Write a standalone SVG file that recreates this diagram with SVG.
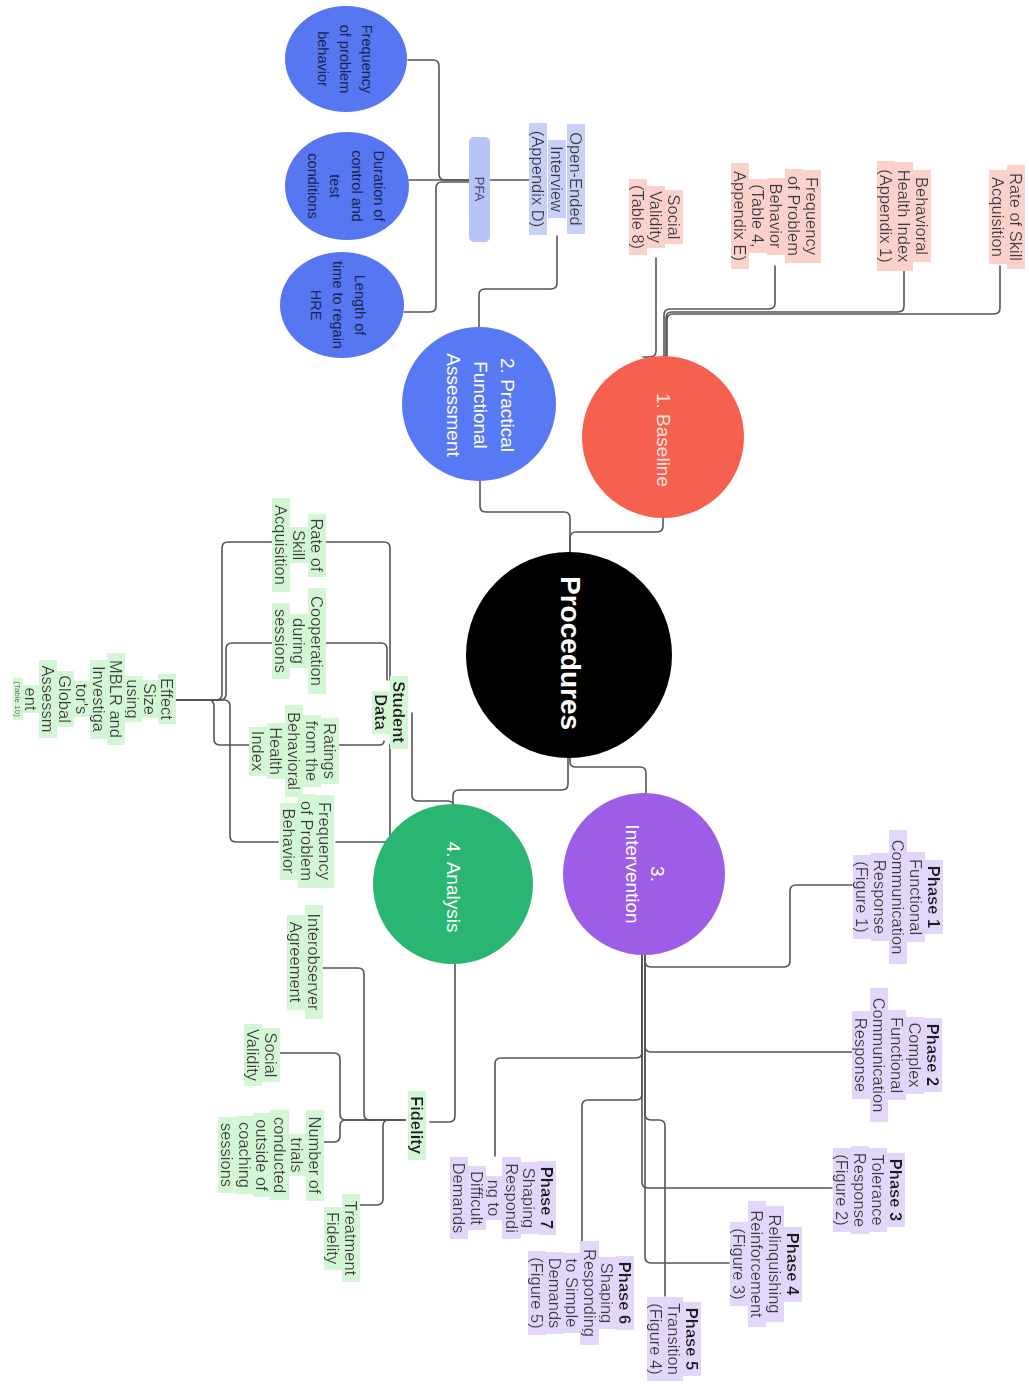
<svg xmlns="http://www.w3.org/2000/svg" width="1029" height="1384" viewBox="0 0 1029 1384">
<defs>
<style>
text{font-family:"Liberation Sans",Arial,Helvetica,sans-serif;text-anchor:middle;dominant-baseline:central}
.lbl{font-size:16.5px;fill:#3a3a3a}
.b{font-weight:bold;fill:#1e1e1e}
.pk{filter:url(#fPink)}
.gr{filter:url(#fGreen)}
.pu{filter:url(#fPurple)}
.bl{filter:url(#fBlue)}
.ct{font-size:19px;fill:#ffffff}
.et{font-size:14.5px;fill:#1c2550}
.conn path{fill:none;stroke:#555;stroke-width:1.6;stroke-linejoin:round;stroke-linecap:round}
</style>
<filter id="fPink" x="-0.08" y="0.01" width="1.16" height="0.98"><feFlood flood-color="#fbd1cc" result="bg"/><feMerge><feMergeNode in="bg"/><feMergeNode in="SourceGraphic"/></feMerge></filter>
<filter id="fGreen" x="-0.08" y="0.01" width="1.16" height="0.98"><feFlood flood-color="#d3f6d4" result="bg"/><feMerge><feMergeNode in="bg"/><feMergeNode in="SourceGraphic"/></feMerge></filter>
<filter id="fPurple" x="-0.08" y="0.01" width="1.16" height="0.98"><feFlood flood-color="#e3d6fb" result="bg"/><feMerge><feMergeNode in="bg"/><feMergeNode in="SourceGraphic"/></feMerge></filter>
<filter id="fBlue" x="-0.08" y="0.01" width="1.16" height="0.98"><feFlood flood-color="#c7d1f8" result="bg"/><feMerge><feMergeNode in="bg"/><feMergeNode in="SourceGraphic"/></feMerge></filter>
</defs>
<rect width="1029" height="1384" fill="#ffffff"/>

<g id="connectors" class="conn">
<path d="M663,518 V526 Q663,532 657,532 H576 Q570,532 570,538 V553"/>
<path d="M480,480 V506 Q480,512 486,512 H564 Q570,512 570,518 V553"/>
<path d="M570,757 V762 Q570,767 576,767 H640 Q646,767 646,773 V795"/>
<path d="M568,757 V784 Q568,790 562,790 H459 Q453,790 453,796 V805"/>
<path d="M412,713 V795 Q412,801 418,801 H447 Q453,801 453,805"/>
<path d="M455,964 V1116 Q455,1122 449,1122 H430"/>
<path d="M557,236 V283 Q557,289 551,289 H485 Q479,289 479,295 V328"/>
<path d="M490,180 H530"/>
<path d="M469,180 H445 Q439,180 439,174 V66 Q439,60 433,60 H408"/>
<path d="M469,180 H409"/>
<path d="M469,182 H442 Q436,182 436,188 V306 Q436,312 430,312 H404"/>
<path d="M656,258 V351 Q656,357 650,357 H643"/>
<path d="M775,266 V303 Q775,309 769,309 H670 Q664,309 664,315 V357"/>
<path d="M904,271 V306 Q904,312 898,312 H672 Q666,312 666,318 V357"/>
<path d="M1000,266 V308 Q1000,314 994,314 H673 Q667,314 667,320 V357"/>
<path d="M326,542 H384 Q390,542 390,548 V680"/>
<path d="M324,643 H381 Q387,643 387,649 V680"/>
<path d="M335,745 H379 Q384,745 384,741"/>
<path d="M336,842 H384 Q390,842 390,836 V744"/>
<path d="M175,700 H216 Q222,700 222,694 V548 Q222,542 228,542 H272"/>
<path d="M175,700 H220 Q226,700 226,694 V649 Q226,643 232,643 H274"/>
<path d="M175,700 H208 Q214,700 214,706 V739 Q214,745 220,745 H253"/>
<path d="M175,700 H224 Q230,700 230,706 V836 Q230,842 236,842 H278"/>
<path d="M322,968 H358 Q364,968 364,974 V1114 Q364,1120 370,1120 H405"/>
<path d="M280,1053 H334 Q340,1053 340,1059 V1114 Q340,1120 346,1120 H405"/>
<path d="M322,1142 H334 Q340,1142 340,1136 V1126 Q340,1120 346,1120 H405"/>
<path d="M358,1205 H377 Q383,1205 383,1199 V1126 Q383,1120 389,1120 H405"/>
<path d="M645,955 V961 Q645,967 651,967 H784 Q790,967 790,961 V891 Q790,885 796,885 H852"/>
<path d="M645,955 V1046 Q645,1052 651,1052 H852"/>
<path d="M642,955 V1182 Q642,1188 648,1188 H832"/>
<path d="M645,955 V1257 Q645,1263 651,1263 H729"/>
<path d="M645,955 V1114 Q645,1120 651,1120 H659 Q665,1120 665,1126 V1296"/>
<path d="M642,955 V1094 Q642,1100 636,1100 H588 Q582,1100 582,1106 V1247"/>
<path d="M642,955 V1052 Q642,1058 636,1058 H501 Q495,1058 495,1064 V1156"/>
</g>

<g id="procedures">
<circle cx="569" cy="655" r="103" fill="#000000"/>
<text transform="translate(570,653) rotate(90)" style="font-size:28px;font-weight:bold;fill:#ffffff">Procedures</text>
</g>

<g id="baseline">
<circle cx="663" cy="437" r="81" fill="#f6604e"/>
<text class="ct" transform="translate(663,440) rotate(90)" style="fill:#fde3df">1. Baseline</text>
</g>

<g id="pfa-main">
<circle cx="479" cy="404" r="77" fill="#5779f4"/>
<g transform="translate(480,405) rotate(90)">
<text class="ct" y="-27">2. Practical</text>
<text class="ct" y="0">Functional</text>
<text class="ct" y="27">Assessment</text>
</g>
</g>

<g id="intervention">
<circle cx="644" cy="874" r="81" fill="#9d5de6"/>
<g transform="translate(645,874) rotate(90)">
<text class="ct" y="-12.5">3.</text>
<text class="ct" y="12.5">Intervention</text>
</g>
</g>

<g id="analysis">
<circle cx="453" cy="884" r="80" fill="#2ab672"/>
<text class="ct" transform="translate(453,887) rotate(90)">4. Analysis</text>
</g>

<g id="e-frequency">
<ellipse cx="346" cy="59" rx="61" ry="53" fill="#5676f2"/>
<g transform="translate(345,59) rotate(90)">
<text class="et" y="-22">Frequency</text>
<text class="et" y="0">of problem</text>
<text class="et" y="22">behavior</text>
</g>
</g>

<g id="e-duration">
<ellipse cx="347" cy="186" rx="62" ry="54" fill="#5676f2"/>
<g transform="translate(346,186) rotate(90)">
<text class="et" y="-33">Duration of</text>
<text class="et" y="-11">control and</text>
<text class="et" y="11">test</text>
<text class="et" y="33">conditions</text>
</g>
</g>

<g id="e-length">
<ellipse cx="342" cy="305" rx="62" ry="53" fill="#5676f2"/>
<g transform="translate(338,305) rotate(90)">
<text class="et" y="-22">Length of</text>
<text class="et" y="0">time to regain</text>
<text class="et" y="22">HRE</text>
</g>
</g>

<g id="pfa">
<rect x="469" y="137" width="21" height="105" rx="5" fill="#b6c4f6"/>
<text transform="translate(479,189) rotate(90)" style="font-size:13px;fill:#3a4470">PFA</text>
</g>

<g id="open-ended" transform="translate(557,179) rotate(90)">
<text class="lbl bl" y="-19">Open-Ended</text>
<text class="lbl bl" y="0">Interview</text>
<text class="lbl bl" y="19">(Appendix D)</text>
</g>

<g id="bl-social" transform="translate(656,217) rotate(90)">
<text class="lbl pk" y="-18">Social</text>
<text class="lbl pk" y="0">Validity</text>
<text class="lbl pk" y="18">(Table 8)</text>
</g>

<g id="bl-frequency" transform="translate(776,216) rotate(90)">
<text class="lbl pk" y="-36">Frequency</text>
<text class="lbl pk" y="-18">of Problem</text>
<text class="lbl pk" y="0">Behavior</text>
<text class="lbl pk" y="18">(Table 4,</text>
<text class="lbl pk" y="36">Appendix E)</text>
</g>

<g id="bl-bhi" transform="translate(904,216) rotate(90)">
<text class="lbl pk" y="-18">Behavioral</text>
<text class="lbl pk" y="0">Health Index</text>
<text class="lbl pk" y="18">(Appendix 1)</text>
</g>

<g id="bl-rate" transform="translate(1007,217) rotate(90)">
<text class="lbl pk" y="-9">Rate of Skill</text>
<text class="lbl pk" y="9">Acquisition</text>
</g>

<g id="student-data" transform="translate(390,712) rotate(90)">
<text class="lbl gr b" y="-9">Student</text>
<text class="lbl gr b" y="9">Data</text>
</g>

<g id="sd-rate" transform="translate(299,545) rotate(90)">
<text class="lbl gr" y="-18">Rate of</text>
<text class="lbl gr" y="0">Skill</text>
<text class="lbl gr" y="18">Acquisition</text>
</g>

<g id="sd-coop" transform="translate(299,641) rotate(90)">
<text class="lbl gr" y="-18">Cooperation</text>
<text class="lbl gr" y="0">during</text>
<text class="lbl gr" y="18">sessions</text>
</g>

<g id="sd-ratings" transform="translate(294,751) rotate(90)">
<text class="lbl gr" y="-36">Ratings</text>
<text class="lbl gr" y="-18">from the</text>
<text class="lbl gr" y="0">Behavioral</text>
<text class="lbl gr" y="18">Health</text>
<text class="lbl gr" y="36">Index</text>
</g>

<g id="sd-frequency" transform="translate(307,841) rotate(90)">
<text class="lbl gr" y="-18">Frequency</text>
<text class="lbl gr" y="0">of Problem</text>
<text class="lbl gr" y="18">Behavior</text>
</g>

<g id="effect-size" transform="translate(99,699) rotate(90)">
<text class="lbl gr" y="-68">Effect</text>
<text class="lbl gr" y="-51">Size</text>
<text class="lbl gr" y="-34">using</text>
<text class="lbl gr" y="-17">MBLR and</text>
<text class="lbl gr" y="0">Investiga</text>
<text class="lbl gr" y="17">tor's</text>
<text class="lbl gr" y="34">Global</text>
<text class="lbl gr" y="51">Assessm</text>
<text class="lbl gr" y="68">ent</text>
<text class="lbl gr" y="81" style="font-size:8px">(Table 10)</text>
</g>

<g id="fidelity" transform="translate(417,1125) rotate(90)">
<text class="lbl gr b" y="0">Fidelity</text>
</g>

<g id="fd-ioa" transform="translate(305,962) rotate(90)">
<text class="lbl gr" y="-9">Interobserver</text>
<text class="lbl gr" y="9">Agreement</text>
</g>

<g id="fd-social" transform="translate(262,1055) rotate(90)">
<text class="lbl gr" y="-9">Social</text>
<text class="lbl gr" y="9">Validity</text>
</g>

<g id="fd-trials" transform="translate(271,1155) rotate(90)">
<text class="lbl gr" y="-44">Number of</text>
<text class="lbl gr" y="-26.4">trials</text>
<text class="lbl gr" y="-8.8">conducted</text>
<text class="lbl gr" y="8.8">outside of</text>
<text class="lbl gr" y="26.4">coaching</text>
<text class="lbl gr" y="44">sessions</text>
</g>

<g id="fd-treatment" transform="translate(342,1238) rotate(90)">
<text class="lbl gr" y="-9">Treatment</text>
<text class="lbl gr" y="9">Fidelity</text>
</g>

<g id="phase1" transform="translate(898,897) rotate(90)">
<text class="lbl pu b" y="-36">Phase 1</text>
<text class="lbl pu" y="-18">Functional</text>
<text class="lbl pu" y="0">Communication</text>
<text class="lbl pu" y="18">Response</text>
<text class="lbl pu" y="36">(Figure 1)</text>
</g>

<g id="phase2" transform="translate(897,1055) rotate(90)">
<text class="lbl pu b" y="-36">Phase 2</text>
<text class="lbl pu" y="-18">Complex</text>
<text class="lbl pu" y="0">Functional</text>
<text class="lbl pu" y="18">Communication</text>
<text class="lbl pu" y="36">Response</text>
</g>

<g id="phase3" transform="translate(869,1190) rotate(90)">
<text class="lbl pu b" y="-27">Phase 3</text>
<text class="lbl pu" y="-9">Tolerance</text>
<text class="lbl pu" y="9">Response</text>
<text class="lbl pu" y="27">(Figure 2)</text>
</g>

<g id="phase4" transform="translate(766,1264) rotate(90)">
<text class="lbl pu b" y="-27">Phase 4</text>
<text class="lbl pu" y="-9">Relinquishing</text>
<text class="lbl pu" y="9">Reinforcement</text>
<text class="lbl pu" y="27">(Figure 3)</text>
</g>

<g id="phase5" transform="translate(674,1339) rotate(90)">
<text class="lbl pu b" y="-18">Phase 5</text>
<text class="lbl pu" y="0">Transition</text>
<text class="lbl pu" y="18">(Figure 4)</text>
</g>

<g id="phase6" transform="translate(581,1293) rotate(90)">
<text class="lbl pu b" y="-44">Phase 6</text>
<text class="lbl pu" y="-26.4">Shaping</text>
<text class="lbl pu" y="-8.8">Responding</text>
<text class="lbl pu" y="8.8">to Simple</text>
<text class="lbl pu" y="26.4">Demands</text>
<text class="lbl pu" y="44">(Figure 5)</text>
</g>

<g id="phase7" transform="translate(503,1198) rotate(90)">
<text class="lbl pu b" y="-44">Phase 7</text>
<text class="lbl pu" y="-26.4">Shaping</text>
<text class="lbl pu" y="-8.8">Respondi</text>
<text class="lbl pu" y="8.8">ng to</text>
<text class="lbl pu" y="26.4">Difficult</text>
<text class="lbl pu" y="44">Demands</text>
</g>
</svg>
